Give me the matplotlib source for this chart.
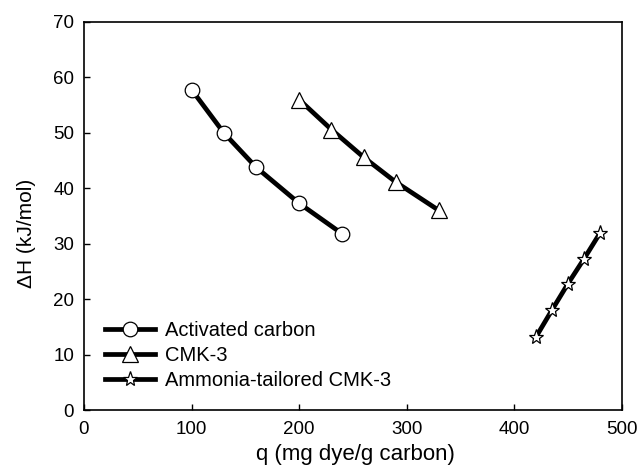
import matplotlib
matplotlib.use("Agg")
import matplotlib.pyplot as plt

plt.rcParams['font.family'] = ['Liberation Sans', 'DejaVu Sans']

ac_x = [100, 130, 160, 200, 240]
ac_y = [57.8, 50.0, 43.8, 37.3, 31.8]
cmk_x = [200, 230, 260, 290, 330]
cmk_y = [56.0, 50.6, 45.6, 41.1, 36.0]
amm_x = [420, 435, 450, 465, 480]
amm_y = [13.1, 18.0, 22.8, 27.3, 32.0]

labels = ["Activated carbon", "CMK-3", "Ammonia-tailored CMK-3"]

fig = plt.figure(figsize=(6.41, 4.67), dpi=100)
ax = fig.add_axes([0.131, 0.122, 0.839, 0.831])

common = dict(color='black', lw=3.4, markerfacecolor='white', markeredgecolor='black', markeredgewidth=0.9)
ax.plot(ac_x, ac_y, marker='o', markersize=10.5, label=labels[0], **common)
ax.plot(cmk_x, cmk_y, marker='^', markersize=11, label=labels[1], **common)
ax.plot(amm_x, amm_y, marker='*', markersize=11, label=labels[2], **common)

ax.set_xlim(0, 500)
ax.set_ylim(0, 70)
ax.set_xticks([0, 100, 200, 300, 400, 500])
ax.set_yticks([0, 10, 20, 30, 40, 50, 60, 70])
ax.tick_params(direction='in', labelsize=13.5, length=4, width=1)
ax.tick_params(axis='x', pad=8)
ax.tick_params(axis='y', pad=7)
for s in ax.spines.values():
    s.set_linewidth(1.2)

ax.set_xlabel("q (mg dye/g carbon)", fontsize=16)
ax.xaxis.set_label_coords(0.505, -0.087)
ax.set_ylabel("ΔH (kJ/mol)", fontsize=15)
ax.yaxis.set_label_coords(-0.09, 0.455)

ax.legend(loc='lower left', bbox_to_anchor=(0.024, 0.031), frameon=False, fontsize=14.5,
          handlelength=2.5, handletextpad=0.5, labelspacing=0.29, borderaxespad=0,
          borderpad=0.4)

fig.savefig("out.png", dpi=100)
